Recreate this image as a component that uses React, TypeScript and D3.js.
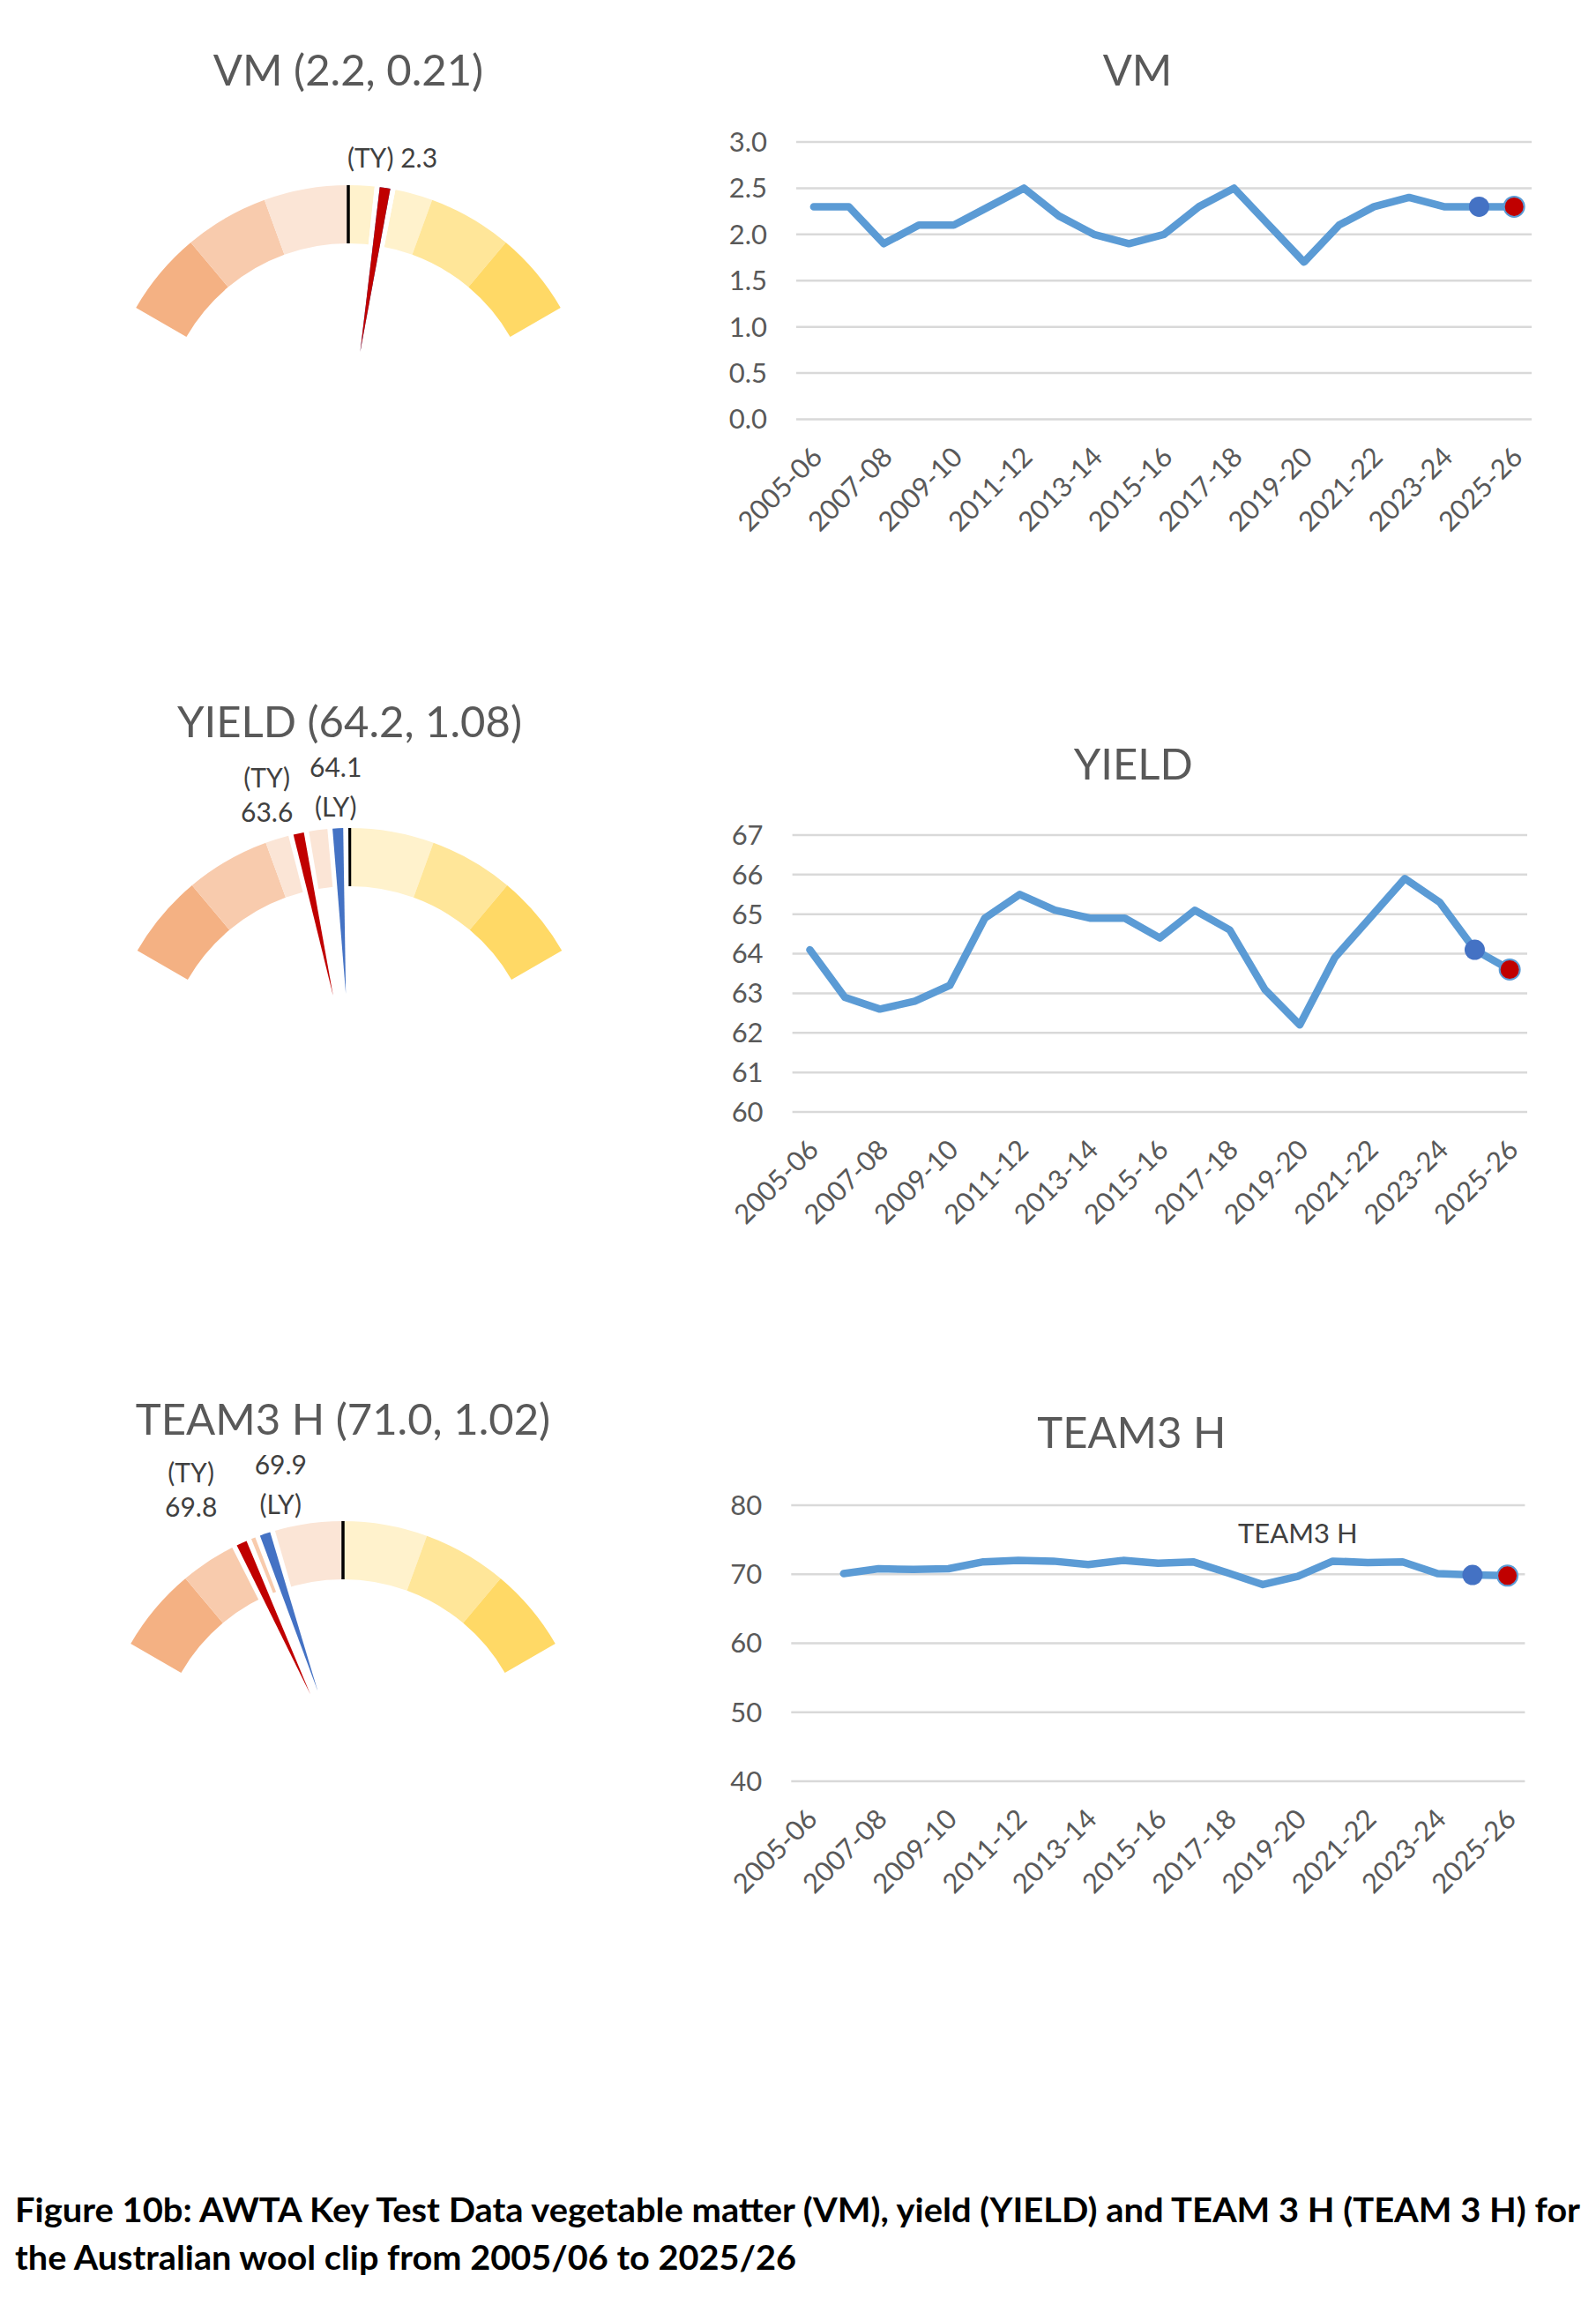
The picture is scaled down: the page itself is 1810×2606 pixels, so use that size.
import React from "react";
import * as d3 from "d3";

// ---------- DATA ----------
const categories = [
  "2005-06", "2006-07", "2007-08", "2008-09", "2009-10", "2010-11", "2011-12",
  "2012-13", "2013-14", "2014-15", "2015-16", "2016-17", "2017-18", "2018-19",
  "2019-20", "2020-21", "2021-22", "2022-23", "2023-24", "2024-25", "2025-26",
];
const xTickLabels = [
  "2005-06", "2007-08", "2009-10", "2011-12", "2013-14", "2015-16",
  "2017-18", "2019-20", "2021-22", "2023-24", "2025-26",
];

const vmSeries = [2.3, 2.3, 1.9, 2.1, 2.1, 2.3, 2.5, 2.2, 2.0, 1.9, 2.0, 2.3, 2.5, 2.1, 1.7, 2.1, 2.3, 2.4, 2.3, 2.3, 2.3];
const yieldSeries = [64.1, 62.9, 62.6, 62.8, 63.2, 64.9, 65.5, 65.1, 64.9, 64.9, 64.4, 65.1, 64.6, 63.1, 62.2, 63.9, 64.9, 65.9, 65.3, 64.1, 63.6];
const team3Series: (number | null)[] = [null, 70.1, 70.8, 70.7, 70.8, 71.8, 72.0, 71.9, 71.4, 72.0, 71.6, 71.8, 70.2, 68.5, 69.7, 71.9, 71.7, 71.8, 70.1, 69.9, 69.8];

const vmTicks = [0, 0.5, 1.0, 1.5, 2.0, 2.5, 3.0];
const yieldTicks = [60, 61, 62, 63, 64, 65, 66, 67];
const team3Ticks = [40, 50, 60, 70, 80];

const gaugeNames = ["VM", "YIELD", "TEAM3 H"];
const gaugeMeans = [2.2, 64.2, 71.0];
const gaugeSDs = [0.21, 1.08, 1.02];
const gaugeThisYear = [2.3, 63.6, 69.8];
const gaugeLastYearNeedle = [2.3, 64.1, 70.1];
const gaugeLastYearLabel: (number | null)[] = [null, 64.1, 69.9];
const sdSteps = [-3, -2, -1, 0, 1, 2, 3];

const captionLines = [
  "Figure 10b: AWTA Key Test Data vegetable matter (VM), yield (YIELD) and TEAM 3 H (TEAM 3 H) for",
  "the Australian wool clip from 2005/06 to 2025/26",
];

// ---------- STYLE / LAYOUT ----------
const FONT = "Lato, 'Open Sans', sans-serif";
const TEXT_GREY = "#595959";
const LABEL_DARK = "#404040";
const LINE_BLUE = "#5B9BD5";
const LY_BLUE = "#4472C4";
const TY_RED = "#C00000";
const GRID = "#D9D9D9";
const bandColors = ["#F4B183", "#F8CBAD", "#FBE5D6", "#FFF2CC", "#FFE699", "#FFD966"];

const gaugeLayout = [
  {
    cx: 395, cy: 488, titleY: 96.7,
    ty: { dx: 50, dy: -298, gap: 0, single: true },
    ly: null as any,
  },
  {
    cx: 396.5, cy: 1217, titleY: 836,
    ty: { dx: -93.8, dy: -323.7, gap: 38.4, single: false },
    ly: { dx: -15.8, dy: -336.3, gap: 45.3 },
  },
  {
    cx: 389, cy: 2003, titleY: 1626.5,
    ty: { dx: -172.3, dy: -322, gap: 39, single: false },
    ly: { dx: -70.7, dy: -331.3, gap: 45 },
  },
];

const R_OUT = 278;
const R_IN = 212;
const R_TIP = 90;
const NEEDLE_HALF = 1.25; // degrees
const NEEDLE_SHIFT = -0.9; // degrees
const GAP = 1.2; // degrees

const fmt1 = d3.format(".1f");
const fmt2 = d3.format(".2f");

const rad = (deg: number) => (deg * Math.PI) / 180;
const polar = (cx: number, cy: number, r: number, deg: number) => [
  cx + r * Math.sin(rad(deg)),
  cy - r * Math.cos(rad(deg)),
];

function Gauge({ idx }: { idx: number }) {
  const L = gaugeLayout[idx];
  const mean = gaugeMeans[idx];
  const sd = gaugeSDs[idx];
  const angle = d3.scaleLinear().domain([mean - 3 * sd, mean + 3 * sd]).range([-60, 60]);
  const arc = d3.arc<any>();
  const bounds = sdSteps.map((k) => angle(mean + k * sd));

  const needles = [
    { v: gaugeLastYearNeedle[idx], color: LY_BLUE },
    { v: gaugeThisYear[idx], color: TY_RED },
  ];

  const needlePath = (v: number) => {
    const a = angle(v) + NEEDLE_SHIFT;
    const [x1, y1] = polar(L.cx, L.cy, R_OUT, a - NEEDLE_HALF);
    const [x2, y2] = polar(L.cx, L.cy, R_OUT, a + NEEDLE_HALF);
    const [xt, yt] = polar(L.cx, L.cy, R_TIP, a);
    return `M${x1},${y1} A${R_OUT},${R_OUT} 0 0 1 ${x2},${y2} L${xt},${yt} Z`;
  };

  const [bx1, by1] = polar(L.cx, L.cy, R_IN, angle(mean));
  const [bx2, by2] = polar(L.cx, L.cy, R_OUT, angle(mean));

  const ty = gaugeThisYear[idx];
  const lyLab = gaugeLastYearLabel[idx];

  return (
    <g>
      <text x={L.cx} y={L.titleY} textAnchor="middle" fontFamily={FONT} fontSize={49} fill={TEXT_GREY}>
        {`${gaugeNames[idx]} (${fmt1(mean)}, ${fmt2(sd)})`}
      </text>
      {bandColors.map((c, i) => (
        <path
          key={i}
          transform={`translate(${L.cx},${L.cy})`}
          d={arc({ innerRadius: R_IN, outerRadius: R_OUT, startAngle: rad(bounds[i]), endAngle: rad(bounds[i + 1]) }) || ""}
          fill={c}
        />
      ))}
      <line x1={bx1} y1={by1} x2={bx2} y2={by2} stroke="#000" strokeWidth={3.5} />
      {needles.map((n, i) => {
        const a = angle(n.v) + NEEDLE_SHIFT;
        return (
          <path
            key={"g" + i}
            transform={`translate(${L.cx},${L.cy})`}
            d={arc({ innerRadius: R_IN - 2, outerRadius: R_OUT + 2, startAngle: rad(a - NEEDLE_HALF - GAP), endAngle: rad(a + NEEDLE_HALF + GAP) }) || ""}
            fill="#fff"
          />
        );
      })}
      {needles.map((n, i) => (
        <path key={"n" + i} d={needlePath(n.v)} fill={n.color} />
      ))}
      {L.ty.single ? (
        <text x={L.cx + L.ty.dx} y={L.cy + L.ty.dy} textAnchor="middle" fontFamily={FONT} fontSize={30} fill={LABEL_DARK}>
          {`(TY) ${fmt1(ty)}`}
        </text>
      ) : (
        <text textAnchor="middle" fontFamily={FONT} fontSize={30} fill={LABEL_DARK}>
          <tspan x={L.cx + L.ty.dx} y={L.cy + L.ty.dy}>(TY)</tspan>
          <tspan x={L.cx + L.ty.dx} y={L.cy + L.ty.dy + L.ty.gap}>{fmt1(ty)}</tspan>
        </text>
      )}
      {L.ly && lyLab != null ? (
        <text textAnchor="middle" fontFamily={FONT} fontSize={30} fill={LABEL_DARK}>
          <tspan x={L.cx + L.ly.dx} y={L.cy + L.ly.dy}>{fmt1(lyLab)}</tspan>
          <tspan x={L.cx + L.ly.dx} y={L.cy + L.ly.dy + L.ly.gap}>(LY)</tspan>
        </text>
      ) : null}
    </g>
  );
}

type Box = { x0: number; x1: number; yTop: number; yBot: number; titleY: number };

function LineChart({
  title, series, ticks, tickFmt, box, seriesLabelIndex,
}: {
  title: string;
  series: (number | null)[];
  ticks: number[];
  tickFmt: (v: number) => string;
  box: Box;
  seriesLabelIndex?: number;
}) {
  const x = d3.scaleBand<string>().domain(categories).range([box.x0, box.x1]).paddingInner(0).paddingOuter(0);
  const y = d3.scaleLinear().domain([ticks[0], ticks[ticks.length - 1]]).range([box.yBot, box.yTop]);
  const cxOf = (c: string) => (x(c) as number) + x.bandwidth() / 2;
  const pts = categories.map((c, i) => ({ c, v: series[i] }));
  const lineGen = d3
    .line<{ c: string; v: number | null }>()
    .defined((d) => d.v != null)
    .x((d) => cxOf(d.c))
    .y((d) => y(d.v as number));
  const n = categories.length;
  const lyPt = pts[n - 2];
  const tyPt = pts[n - 1];
  const titleX = (box.x0 + box.x1) / 2 - 30;

  return (
    <g>
      <text x={titleX} y={box.titleY} textAnchor="middle" fontFamily={FONT} fontSize={49} fill={TEXT_GREY}>
        {title}
      </text>
      {ticks.map((t) => (
        <g key={t}>
          <line x1={box.x0} x2={box.x1} y1={y(t)} y2={y(t)} stroke={GRID} strokeWidth={2.5} />
          <text x={box.x0 - 33} y={y(t)} dy="0.35em" textAnchor="end" fontFamily={FONT} fontSize={31} fill={TEXT_GREY}>
            {tickFmt(t)}
          </text>
        </g>
      ))}
      {xTickLabels.map((lab) => {
        const px = cxOf(lab) + 4;
        const py = box.yBot + 37;
        return (
          <text
            key={lab}
            x={px}
            y={py}
            dy="0.35em"
            textAnchor="end"
            transform={`rotate(-45 ${px} ${py})`}
            fontFamily={FONT}
            fontSize={31}
            fill={TEXT_GREY}
          >
            {lab}
          </text>
        );
      })}
      <path
        d={lineGen(pts) || ""}
        fill="none"
        stroke={LINE_BLUE}
        strokeWidth={8.5}
        strokeLinejoin="round"
        strokeLinecap="round"
      />
      <circle cx={cxOf(lyPt.c)} cy={y(lyPt.v as number)} r={11.5} fill={LY_BLUE} />
      <circle cx={cxOf(tyPt.c)} cy={y(tyPt.v as number)} r={11.5} fill={TY_RED} stroke={LINE_BLUE} strokeWidth={2} />
      {seriesLabelIndex != null ? (
        <text
          x={cxOf(categories[seriesLabelIndex])}
          y={y(series[seriesLabelIndex] as number) - 38}
          textAnchor="middle"
          fontFamily={FONT}
          fontSize={31}
          fill={LABEL_DARK}
        >
          {title}
        </text>
      ) : null}
    </g>
  );
}

export default function App() {
  return (
    <div style={{ position: "absolute", left: 0, top: 0, background: "#fff" }}>
      <svg width={1810} height={2606} viewBox="0 0 1810 2606" style={{ display: "block", background: "#fff" }}>
        <rect x={0} y={0} width={1810} height={2606} fill="#fff" />
        <Gauge idx={0} />
        <Gauge idx={1} />
        <Gauge idx={2} />
        <LineChart
          title="VM"
          series={vmSeries}
          ticks={vmTicks}
          tickFmt={fmt1}
          box={{ x0: 903, x1: 1737, yTop: 161, yBot: 475.5, titleY: 97 }}
        />
        <LineChart
          title="YIELD"
          series={yieldSeries}
          ticks={yieldTicks}
          tickFmt={d3.format("d")}
          box={{ x0: 898.6, x1: 1732, yTop: 947, yBot: 1261, titleY: 883.6 }}
        />
        <LineChart
          title="TEAM3 H"
          series={team3Series}
          ticks={team3Ticks}
          tickFmt={d3.format("d")}
          box={{ x0: 897.3, x1: 1729.4, yTop: 1707, yBot: 2020, titleY: 1641.7 }}
          seriesLabelIndex={14}
        />
        <text x={17} y={2519.6} fontFamily={FONT} fontWeight="bold" fontSize={38.5} fill="#000" textLength={1775} lengthAdjust="spacingAndGlyphs">
          {captionLines[0]}
        </text>
        <text x={17} y={2574.4} fontFamily={FONT} fontWeight="bold" fontSize={38.5} fill="#000" textLength={886} lengthAdjust="spacingAndGlyphs">
          {captionLines[1]}
        </text>
      </svg>
    </div>
  );
}
